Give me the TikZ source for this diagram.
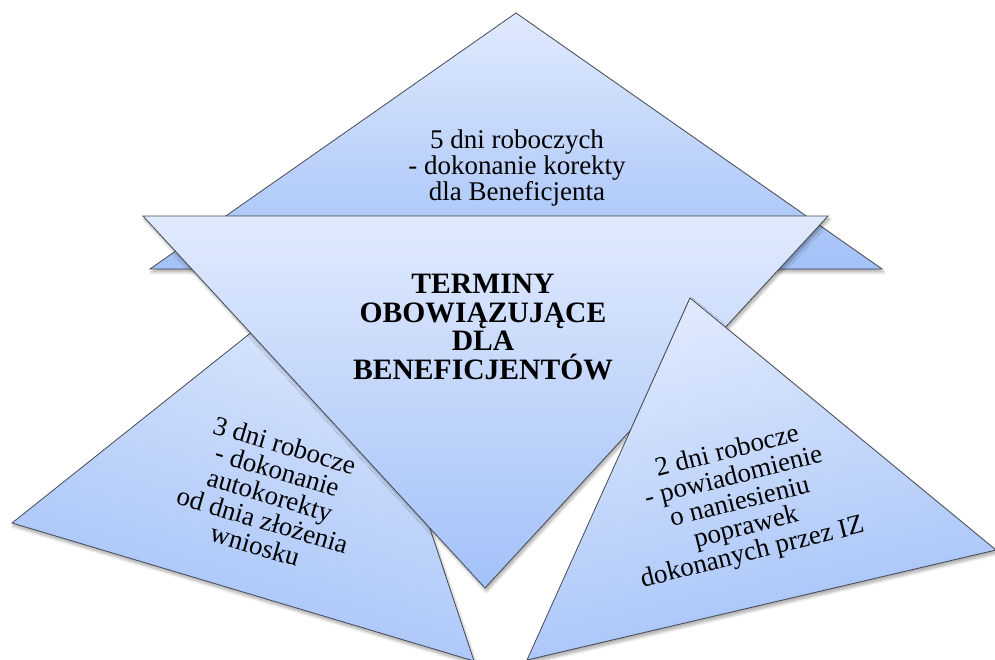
\documentclass[tikz,border=0pt]{standalone}
\usepackage{fontspec}
\setmainfont{Liberation Serif}
\usetikzlibrary{shadows.blur}
\definecolor{trilight}{RGB}{224,234,253}
\definecolor{tridark}{RGB}{163,193,248}
\definecolor{triedge}{RGB}{70,74,84}
\tikzset{
  tri/.style={draw=triedge, line width=0.8pt, line join=miter,
    top color=trilight, bottom color=tridark,
    blur shadow={shadow xshift=1.5pt, shadow yshift=-3pt, shadow blur radius=3pt, shadow blur steps=8, shadow opacity=35}},
  txt/.style={align=center, inner sep=0pt, font=\fontsize{27}{26}\selectfont},
  ttl/.style={align=center, inner sep=0pt, font=\fontsize{29.6}{28.5}\selectfont\bfseries}
}
\begin{document}
\begin{tikzpicture}[x=1pt,y=1pt]
\useasboundingbox (0,0) rectangle (995,660);
\clip (0,0) rectangle (995,660);
% coordinates
\coordinate (tA) at (516,647);
\coordinate (tL) at (150,391);
\coordinate (tR) at (882,391);
\coordinate (cL) at (143,444);
\coordinate (cR) at (828,444);
\coordinate (cB) at (485,72);
\coordinate (lA) at (341,399);
\coordinate (lL) at (12,137);
\coordinate (lR) at (474,-1);
\coordinate (rA) at (690,362);
\coordinate (rL) at (527,0);
\coordinate (rR) at (996,110);
% top triangle
\path[tri] (tA) -- (tL) -- (tR) -- cycle;
% left triangle
\path[tri, shading angle=-16.6] (lA) -- (lL) -- (lR) -- cycle;
% central inverted triangle
\path[tri] (cL) -- (cR) -- (cB) -- cycle;
% right triangle
\path[tri, shading angle=13] (rA) -- (rL) -- (rR) -- cycle;
% texts
\node[txt] (ttop) at (517,492) {5 dni roboczych\\- dokonanie korekty\\dla Beneficjenta};
\node[ttl] (tmid) at (483,333) {TERMINY\\OBOWIĄZUJĄCE\\DLA\\BENEFICJENTÓW};
\node[txt, rotate=-16.5] (tleft) at (270,165) {3 dni robocze\\- dokonanie\\autokorekty\\od dnia złożenia\\wniosku};
\node[txt, rotate=14] (tright) at (740,157) {2 dni robocze\\- powiadomienie\\o naniesieniu\\poprawek\\dokonanych przez IZ};
\end{tikzpicture}
\end{document}
